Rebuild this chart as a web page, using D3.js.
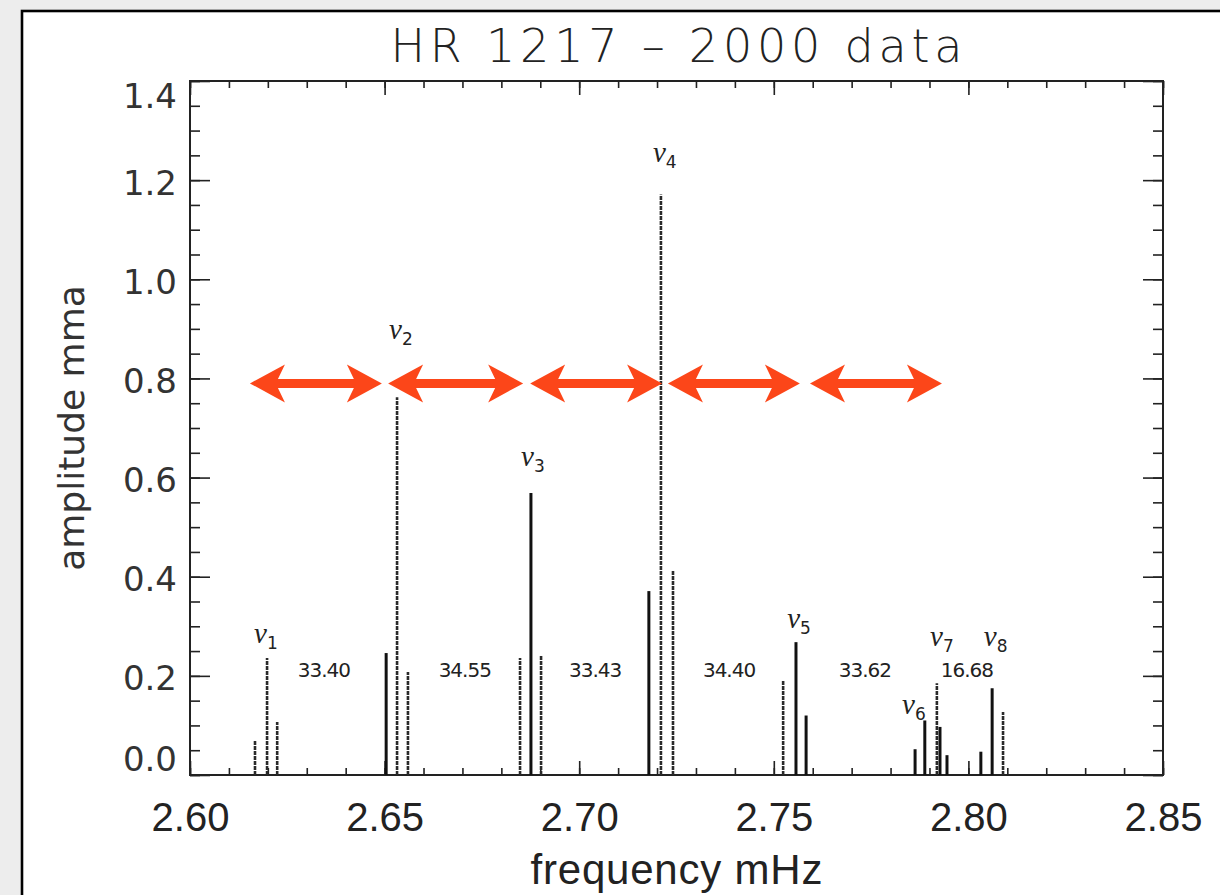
<!DOCTYPE html>
<html><head><meta charset="utf-8">
<script src="https://cdn.jsdelivr.net/npm/d3@7"></script>
<style>
html,body{margin:0;padding:0;background:#ededed;}
svg{display:block;}
</style></head>
<body><svg id="c" width="1220" height="895"></svg>
<script>
// ---- data ----
const peakFreq = [2.6167, 2.6198, 2.6224, 2.6504, 2.6532, 2.6560, 2.6848, 2.6876, 2.6902,
                  2.7179, 2.7210, 2.7241, 2.7524, 2.7557, 2.7583, 2.7863, 2.7888, 2.7919,
                  2.7927, 2.7945, 2.8032, 2.8061, 2.8089];
const peakAmp  = [0.070, 0.236, 0.107, 0.246, 0.762, 0.208, 0.236, 0.569, 0.240,
                  0.371, 1.171, 0.413, 0.190, 0.268, 0.120, 0.052, 0.110, 0.185,
                  0.097, 0.040, 0.047, 0.175, 0.127];
const peakDotted = [true, true, true, false, true, true, true, false, true,
                    false, true, true, true, false, false, false, false, true,
                    false, false, false, false, true];
const modeNumbers = ["1","2","3","4","5","6","7","8"];
const modeLabelFreq = [2.6195, 2.6542, 2.6881, 2.7220, 2.7565, 2.7860, 2.7932, 2.8070];
const modeLabelAmp  = [0.275, 0.888, 0.631, 1.245, 0.305, 0.131, 0.268, 0.268];
const spacingText = ["33.40","34.55","33.43","34.40","33.62","16.68"];
const spacingFreq = [2.6344, 2.6706, 2.7041, 2.7385, 2.7734, 2.7996];
const spacingAmp = 0.213;
const arrowFrom = [2.6154, 2.6509, 2.6874, 2.7228, 2.7593];
const arrowTo   = [2.6493, 2.6856, 2.7213, 2.7567, 2.7932];
const arrowAmp = 0.79;
const xTicks = [2.60, 2.65, 2.70, 2.75, 2.80, 2.85];
const yTicks = [0.0, 0.2, 0.4, 0.6, 0.8, 1.0, 1.2, 1.4];
const title = "HR 1217 \u2013 2000 data";
const xTitle = "frequency mHz";
const yTitle = "amplitude mma";

// ---- layout ----
const L = 190, R = 1163, T = 81, B = 775;
const svg = d3.select("#c");
const x = d3.scaleLinear().domain([2.60, 2.85]).range([L, R]);
const y = d3.scaleLinear().domain([0, 1.4]).range([B, T]);

// outer border / paper
svg.append("rect").attr("x", 22).attr("y", 11).attr("width", 1230).attr("height", 900)
  .attr("fill", "#fff").attr("stroke", "#000").attr("stroke-width", 2.6);

// title
svg.append("text").attr("x", (L + R) / 2).attr("y", 62).attr("text-anchor", "middle")
  .attr("font-family", "DejaVu Sans, sans-serif").attr("font-weight", 200).attr("font-size", 46)
  .attr("textLength", 572).attr("lengthAdjust", "spacing")
  .attr("fill", "#222").text(title);

// axes
const xMinor = d3.range(0, 26).map(i => +(2.60 + i * 0.01).toFixed(2));
const yMinor = d3.range(0, 29).map(i => +(i * 0.05).toFixed(2));

function styleAxis(g) {
  g.select(".domain").remove();
  g.selectAll(".tick line").attr("stroke", "#222").attr("stroke-width", 1.6);
}
svg.append("g").attr("transform", `translate(0,${B})`)
  .call(d3.axisBottom(x).tickValues(xMinor).tickSize(-7).tickFormat("")).call(styleAxis);
svg.append("g").attr("transform", `translate(0,${T})`)
  .call(d3.axisTop(x).tickValues(xMinor).tickSize(-7).tickFormat("")).call(styleAxis);
svg.append("g").attr("transform", `translate(${L},0)`)
  .call(d3.axisLeft(y).tickValues(yMinor).tickSize(-10).tickFormat("")).call(styleAxis);
svg.append("g").attr("transform", `translate(${R},0)`)
  .call(d3.axisRight(y).tickValues(yMinor).tickSize(-10).tickFormat("")).call(styleAxis);

const gxb = svg.append("g").attr("transform", `translate(0,${B})`)
  .call(d3.axisBottom(x).tickValues(xTicks).tickSize(-14).tickPadding(28).tickFormat(d3.format(".2f")))
  .call(styleAxis);
gxb.selectAll("text").attr("font-family", "Liberation Sans, Arial, sans-serif")
  .attr("font-size", 40).attr("fill", "#222");
svg.append("g").attr("transform", `translate(0,${T})`)
  .call(d3.axisTop(x).tickValues(xTicks).tickSize(-14).tickFormat("")).call(styleAxis);

const gyl = svg.append("g").attr("transform", `translate(${L},0)`)
  .call(d3.axisLeft(y).tickValues(yTicks).tickSize(-20).tickPadding(13).tickFormat(d3.format(".1f")))
  .call(styleAxis);
gyl.selectAll("text").attr("font-family", "DejaVu Sans, sans-serif")
  .attr("font-size", 34).attr("fill", "#333")
  .attr("dy", d => d === 1.4 ? "0.78em" : (d === 0 ? "-0.12em" : "0.41em"));
svg.append("g").attr("transform", `translate(${R},0)`)
  .call(d3.axisRight(y).tickValues(yTicks).tickSize(-20).tickFormat("")).call(styleAxis);

// frame
svg.append("rect").attr("x", L).attr("y", T).attr("width", R - L).attr("height", B - T)
  .attr("fill", "none").attr("stroke", "#222").attr("stroke-width", 2);

// axis titles
svg.append("text").attr("x", (L + R) / 2).attr("y", 884).attr("text-anchor", "middle")
  .attr("font-family", "Liberation Sans, Arial, sans-serif").attr("font-size", 42)
  .attr("textLength", 292).attr("lengthAdjust", "spacing")
  .attr("fill", "#222").text(xTitle);
svg.append("text").attr("transform", `translate(84,${(T + B) / 2}) rotate(-90)`)
  .attr("text-anchor", "middle")
  .attr("font-family", "DejaVu Sans, sans-serif").attr("font-size", 36)
  .attr("fill", "#333").text(yTitle);

// peaks
const peaks = peakFreq.map((f, i) => ({ f, a: peakAmp[i], dotted: peakDotted[i] }));
svg.append("g").selectAll("line").data(peaks).join("line")
  .attr("x1", d => x(d.f)).attr("x2", d => x(d.f))
  .attr("y1", y(0)).attr("y2", d => y(d.a))
  .attr("stroke", d => d.dotted ? "#2a2a2a" : "#111")
  .attr("stroke-width", d => d.dotted ? 2.6 : 3)
  .attr("stroke-dasharray", d => d.dotted ? "4,1" : null);

// mode labels
const modes = modeNumbers.map((n, i) => ({ n, f: modeLabelFreq[i], a: modeLabelAmp[i] }));
const ml = svg.append("g").selectAll("text").data(modes).join("text")
  .attr("x", d => x(d.f)).attr("y", d => y(d.a) + 4)
  .attr("text-anchor", "middle")
  .attr("font-family", "Liberation Serif, serif").attr("fill", "#222");
ml.append("tspan").attr("font-style", "italic").attr("font-size", 29).text("\u03bd");
ml.append("tspan").attr("font-size", 17).attr("dy", 6).attr("font-family", "DejaVu Sans, sans-serif")
  .text(d => d.n);

// spacing numbers
svg.append("g").selectAll("text").data(spacingText).join("text")
  .attr("x", (d, i) => x(spacingFreq[i])).attr("y", y(spacingAmp) + 7.5)
  .attr("text-anchor", "middle")
  .attr("font-family", "DejaVu Sans, sans-serif").attr("font-size", 20)
  .attr("letter-spacing", -1)
  .attr("fill", "#222").text(d => d);

// double arrows
function dblArrow(x1, x2, yc) {
  const hl = 35, notch = 28, hh = 19, sh = 4.5;
  return [
    [x1, yc], [x1 + hl, yc - hh], [x1 + notch, yc - sh], [x2 - notch, yc - sh], [x2 - hl, yc - hh],
    [x2, yc], [x2 - hl, yc + hh], [x2 - notch, yc + sh], [x1 + notch, yc + sh], [x1 + hl, yc + hh]
  ];
}
svg.append("g").selectAll("path").data(arrowFrom.map((f, i) => [f, arrowTo[i]])).join("path")
  .attr("d", d => d3.line()(dblArrow(x(d[0]), x(d[1]), y(arrowAmp))) + "Z")
  .attr("fill", "#fc4619");
</script>
</body></html>
